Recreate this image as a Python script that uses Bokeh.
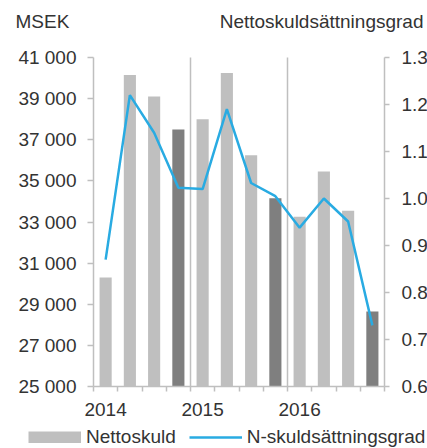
from bokeh.plotting import figure
from bokeh.models import (LinearAxis, Range1d, FixedTicker, Label, Legend,
                          LegendItem, ColumnDataSource, NumeralTickFormatter)
from bokeh.embed import file_html
from bokeh.resources import INLINE

# ---- data ----
quarters = ["2014 Q1", "2014 Q2", "2014 Q3", "2014 Q4",
            "2015 Q1", "2015 Q2", "2015 Q3", "2015 Q4",
            "2016 Q1", "2016 Q2", "2016 Q3", "2016 Q4"]
nettoskuld = [30300, 40150, 39100, 37500, 38000, 40250, 36250, 34150, 33250, 35450, 33550, 28650]
skuldsattningsgrad = [0.87, 1.22, 1.14, 1.023, 1.02, 1.19, 1.033, 1.005, 0.938, 1.0, 0.951, 0.73]
year_labels = {0: "2014", 4: "2015", 8: "2016"}
year_breaks = [3.5, 7.5]
left_ticks = [25000, 27000, 29000, 31000, 33000, 35000, 37000, 39000, 41000]
right_ticks = [0.6, 0.7, 0.8, 0.9, 1.0, 1.1, 1.2, 1.3]

# ---- layout (pixels) ----
W, H = 427, 448
AX_L, AX_R = 93, 384      # left / right axis x in px
AX_T, AX_B = 57, 386      # top / bottom of plotting area in px

FONT = "Liberation Sans"
TXT = "#333333"
AX = "#bfbfbf"
LIGHT = "#bfbfbf"
DARK = "#7f7f7f"
BLUE = "#29abe2"
FS = "19px"

n = len(quarters)
idx = list(range(n))
x0, x1 = -0.5, n - 0.5
ppx = (AX_R - AX_L) / (x1 - x0)
ly0, ly1 = left_ticks[0], left_ticks[-1]
ppy = (AX_B - AX_T) / (ly1 - ly0)
ry0, ry1 = right_ticks[0], right_ticks[-1]
rppy = (AX_B - AX_T) / (ry1 - ry0)

x_range = Range1d(x0 - AX_L / ppx, x1 + (W - AX_R) / ppx)
y_range = Range1d(ly0 - (H - AX_B) / ppy, ly1 + AX_T / ppy)
r_range = Range1d(ry0 - (H - AX_B) / rppy, ry1 + AX_T / rppy)

light = ColumnDataSource(dict(x=[i for i, q in zip(idx, quarters) if not q.endswith("Q4")],
                              top=[v for v, q in zip(nettoskuld, quarters) if not q.endswith("Q4")]))
dark = ColumnDataSource(dict(x=[i for i, q in zip(idx, quarters) if q.endswith("Q4")],
                             top=[v for v, q in zip(nettoskuld, quarters) if q.endswith("Q4")]))

p = figure(frame_width=W, frame_height=H, x_range=x_range, y_range=y_range,
           output_backend="svg", toolbar_location=None,
           min_border_left=0, min_border_right=0, min_border_top=0, min_border_bottom=0,
           x_axis_location=None, y_axis_location=None)
p.outline_line_color = None
p.xgrid.visible = False
p.ygrid.visible = False
p.extra_y_ranges = {"grad": r_range}

# year separators
p.segment(x0=year_breaks, x1=year_breaks, y0=[ly0] * len(year_breaks), y1=[ly1] * len(year_breaks),
          line_color=AX, line_width=1.5)

p.vbar(x="x", top="top", bottom=ly0, width=0.5, source=light, fill_color=LIGHT, line_color=None)
p.vbar(x="x", top="top", bottom=ly0, width=0.5, source=dark, fill_color=DARK, line_color=None)
r_line = p.line(x=idx, y=skuldsattningsgrad, y_range_name="grad", line_color=BLUE, line_width=2.5)
# legend key swatch for the bars (full-size block, draws nothing in the plot)
r_key = p.line(x=[float("nan")], y=[float("nan")], line_color=LIGHT, line_width=12)

# axes (fixed in place inside the full-canvas frame)
xa = LinearAxis(fixed_location=ly0, bounds=(x0, x1),
                ticker=FixedTicker(ticks=list(year_labels.keys()), minor_ticks=[i - 0.5 for i in range(n + 1)]))
xa.major_label_overrides = year_labels
xa.major_tick_out = 0
xa.major_tick_in = 0
xa.minor_tick_out = 5
xa.minor_tick_in = 0
xa.major_label_standoff = 11
p.add_layout(xa, "below")

ya = LinearAxis(fixed_location=x0, bounds=(ly0, ly1), ticker=FixedTicker(ticks=left_ticks))
ya.major_label_overrides = {t: f"{t:,}".replace(",", " ") for t in left_ticks}
ya.major_tick_out = 6
ya.major_tick_in = 0
ya.minor_tick_out = 0
ya.minor_tick_in = 0
ya.major_label_standoff = 11
p.add_layout(ya, "left")

ra = LinearAxis(y_range_name="grad", fixed_location=x1, bounds=(ry0, ry1),
                ticker=FixedTicker(ticks=right_ticks), formatter=NumeralTickFormatter(format="0.0"))
ra.major_tick_out = 5
ra.major_tick_in = 0
ra.minor_tick_out = 0
ra.minor_tick_in = 0
ra.major_label_standoff = 12
p.add_layout(ra, "right")

for ax in (xa, ya, ra):
    ax.axis_line_color = AX
    ax.axis_line_width = 1.5
    ax.major_tick_line_color = AX
    ax.major_tick_line_width = 1.5
    ax.minor_tick_line_color = AX
    ax.minor_tick_line_width = 1.5
    ax.major_label_text_font = FONT
    ax.major_label_text_font_size = FS
    ax.major_label_text_color = TXT

p.add_layout(Label(x=x0, y=ly1, x_offset=-78, y_offset=36, text="MSEK",
                   text_font=FONT, text_font_size=FS, text_color=TXT,
                   text_align="left", text_baseline="alphabetic"))
p.add_layout(Label(x=x1, y=ly1, x_offset=39, y_offset=36, text="Nettoskuldsättningsgrad",
                   text_font=FONT, text_font_size=FS, text_color=TXT,
                   text_align="right", text_baseline="alphabetic"))

legend = Legend(items=[LegendItem(label="Nettoskuld", renderers=[r_key]),
                       LegendItem(label="N-skuldsättningsgrad", renderers=[r_line])],
                orientation="horizontal", location=(28, 0),
                glyph_width=53, glyph_height=12, label_standoff=5, spacing=13,
                padding=0, margin=0, border_line_color=None, background_fill_alpha=0,
                label_text_font=FONT, label_text_font_size=FS, label_text_color=TXT)
p.add_layout(legend)

open("out.html", "w").write(file_html(p, INLINE))
